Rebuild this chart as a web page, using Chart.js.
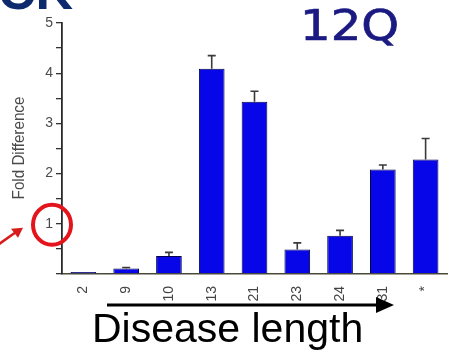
<!DOCTYPE html>
<html>
<head>
<meta charset="utf-8">
<script src="https://cdn.jsdelivr.net/npm/chart.js@4.4.1/dist/chart.umd.min.js"></script>
<style>
  html, body { margin: 0; padding: 0; background: #ffffff; }
  #wrap { width: 450px; height: 351px; position: relative; }
</style>
</head>
<body>
<div id="wrap"><canvas id="c" width="450" height="351"></canvas></div>
<script>
// Repeat lengths along the x axis, fold change and upper error per bar
const categories = ['2', '9', '10', '13', '21', '23', '24', '31', '*'];
const foldDifference = [0.04, 0.11, 0.36, 4.09, 3.43, 0.49, 0.76, 2.08, 2.28];
const errorUpper = [0, 0.02, 0.07, 0.26, 0.21, 0.13, 0.11, 0.09, 0.42];
const yTickLabels = ['1', '2', '3', '4', '5'];

const panelTag = 'CK';
const constructName = '12Q';
const yTitle = 'Fold Difference';
const xTitle = 'Disease length';

// Upper error bars with a cap, drawn on top of the bars
const errorBars = {
  id: 'errorBars',
  afterDatasetsDraw(chart) {
    const { ctx, scales: { y } } = chart;
    const meta = chart.getDatasetMeta(0);
    ctx.save();
    ctx.strokeStyle = '#3a3a3a';
    ctx.lineWidth = 1.6;
    meta.data.forEach((bar, i) => {
      const e = errorUpper[i];
      if (!e) return;
      const y0 = y.getPixelForValue(foldDifference[i]);
      const y1 = y.getPixelForValue(foldDifference[i] + e);
      ctx.beginPath();
      ctx.moveTo(bar.x, y0);
      ctx.lineTo(bar.x, y1);
      ctx.moveTo(bar.x - 4, y1);
      ctx.lineTo(bar.x + 4, y1);
      ctx.stroke();
    });
    ctx.restore();
  }
};

// Titles, the highlighted "1" tick and the disease-length arrow
const annotations = {
  id: 'annotations',
  afterDraw(chart) {
    const { ctx, scales: { y } } = chart;
    ctx.save();

    // partially visible panel letters at top-left
    ctx.fillStyle = '#0d2a6e';
    ctx.font = 'bold 52px "Liberation Sans", Arial, sans-serif';
    ctx.textBaseline = 'alphabetic';
    ctx.textAlign = 'left';
    ctx.fillText(panelTag, -2, 9);

    // construct name
    ctx.fillStyle = '#1a1a82';
    ctx.strokeStyle = '#1a1a82';
    ctx.lineWidth = 0.7;
    ctx.font = '43px "DejaVu Sans", sans-serif';
    ctx.save();
    ctx.translate(300, 40);
    ctx.scale(1.12, 1);
    ctx.fillText(constructName, 0, 0);
    ctx.strokeText(constructName, 0, 0);
    ctx.restore();

    // y axis title
    ctx.save();
    ctx.fillStyle = '#4a4a4a';
    ctx.font = '16px "Liberation Sans", Arial, sans-serif';
    ctx.translate(20, 148);
    ctx.rotate(-Math.PI / 2);
    ctx.scale(0.95, 1);
    ctx.textAlign = 'center';
    ctx.textBaseline = 'middle';
    ctx.fillText(yTitle, 0, 0);
    ctx.restore();

    // red ring around the "1" tick and the pointer to it
    const y1 = y.getPixelForValue(1);
    ctx.strokeStyle = '#e3141b';
    ctx.lineWidth = 4;
    ctx.beginPath();
    ctx.ellipse(52, y1 + 1, 19, 20, 0, 0, Math.PI * 2);
    ctx.stroke();

    ctx.fillStyle = '#d81c1c';
    ctx.strokeStyle = '#d81c1c';
    ctx.lineWidth = 2.5;
    ctx.beginPath();
    ctx.moveTo(-2, y1 + 21);
    ctx.lineTo(15, y1 + 9);
    ctx.stroke();
    ctx.beginPath();
    ctx.moveTo(23, y1 + 4);
    ctx.lineTo(11, y1 + 5);
    ctx.lineTo(18, y1 + 14);
    ctx.closePath();
    ctx.fill();

    // disease length arrow
    ctx.strokeStyle = '#000000';
    ctx.fillStyle = '#000000';
    ctx.lineWidth = 3;
    ctx.beginPath();
    ctx.moveTo(107, 305);
    ctx.lineTo(380, 305);
    ctx.stroke();
    ctx.beginPath();
    ctx.moveTo(394, 305);
    ctx.lineTo(376, 297);
    ctx.lineTo(376, 313);
    ctx.closePath();
    ctx.fill();

    ctx.font = '41px "Liberation Sans", Arial, sans-serif';
    ctx.textAlign = 'left';
    ctx.textBaseline = 'alphabetic';
    ctx.fillText(xTitle, 92, 342);

    ctx.restore();
  }
};

new Chart(document.getElementById('c'), {
  type: 'bar',
  data: {
    labels: categories,
    datasets: [{
      data: foldDifference,
      backgroundColor: '#0606e8',
      borderColor: '#00004a',
      borderWidth: 1,
      barPercentage: 0.6,
      categoryPercentage: 1.0
    }]
  },
  options: {
    responsive: false,
    animation: false,
    layout: { padding: { top: 23, right: 3, left: 0, bottom: 0 } },
    plugins: { legend: { display: false }, tooltip: { enabled: false } },
    scales: {
      x: {
        grid: { display: false },
        border: { display: true, color: '#4a4a3a', width: 1.6 },
        ticks: {
          minRotation: 90,
          maxRotation: 90,
          padding: 4,
          color: '#444444',
          font: { family: '"Liberation Sans", Arial, sans-serif', size: 14 }
        },
        afterFit(s) { s.height = 77; }
      },
      y: {
        min: 0,
        max: 5,
        grid: { drawOnChartArea: false, drawTicks: true, tickLength: 6, color: '#333333', lineWidth: 1.3 },
        border: { display: true, color: '#2a2a2a', width: 1.8 },
        ticks: {
          stepSize: 0.5,
          padding: 3,
          color: '#4a4a4a',
          font: { family: '"Liberation Sans", Arial, sans-serif', size: 14 },
          callback(v) {
            return Number.isInteger(v) && v > 0 ? yTickLabels[v - 1] : '';
          }
        },
        afterFit(s) { s.width = 62; }
      }
    }
  },
  plugins: [errorBars, annotations]
});
</script>
</body>
</html>
